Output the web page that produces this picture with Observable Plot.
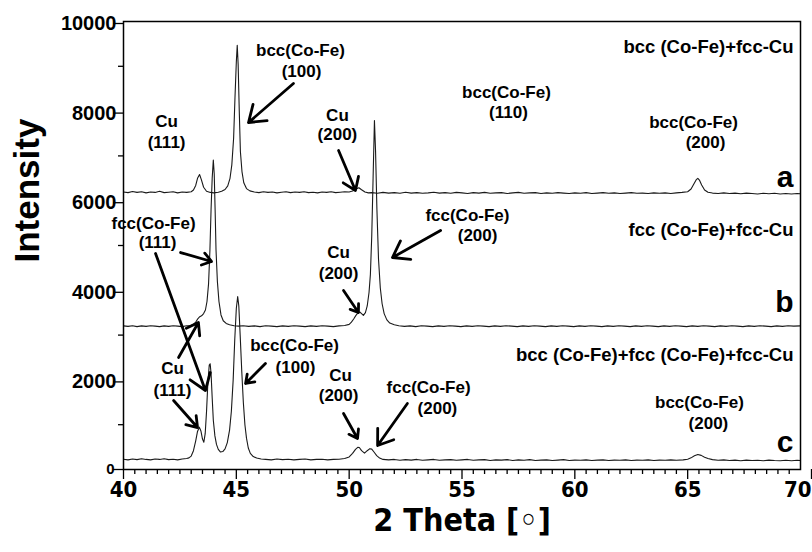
<!DOCTYPE html>
<html><head><meta charset="utf-8">
<script src="https://cdn.jsdelivr.net/npm/d3@7"></script>
<script src="https://cdn.jsdelivr.net/npm/@observablehq/plot@0.6"></script>
<style>
body{margin:0;background:#fff;}
#chart svg{display:block;}
</style></head><body><div id="chart"></div>
<script>
// 2θ (deg), intensity — curve a (bcc(Co-Fe)+fcc-Cu)
const seriesA = [
[40.0,6195],[40.2,6180],[40.4,6205],[40.6,6185],[40.8,6200],[41.0,6175],[41.2,6195],[41.4,6185],[41.6,6210],[41.8,6180],
[42.0,6190],[42.2,6200],[42.4,6175],[42.6,6195],[42.8,6185],[43.0,6200],[43.1,6240],[43.2,6340],[43.28,6500],[43.37,6585],
[43.45,6470],[43.55,6300],[43.68,6210],[43.85,6185],[44.0,6175],[44.2,6190],[44.35,6210],[44.5,6250],[44.62,6330],[44.72,6500],
[44.8,6800],[44.88,7400],[44.94,8300],[45.0,9100],[45.04,9470],[45.08,9050],[45.13,8000],[45.18,7100],[45.25,6650],[45.33,6400],
[45.45,6270],[45.6,6220],[45.8,6195],[46.0,6180],[46.2,6200],[46.4,6185],[46.6,6195],[46.8,6175],[47.0,6190],[47.2,6200],
[47.4,6180],[47.6,6195],[47.8,6185],[48.0,6200],[48.2,6180],[48.4,6190],[48.6,6175],[48.8,6195],[49.0,6185],[49.2,6200],
[49.4,6180],[49.6,6190],[49.8,6200],[50.0,6195],[50.15,6215],[50.3,6260],[50.43,6290],[50.55,6245],[50.7,6195],[50.85,6175],
[51.0,6180],[51.25,6165],[51.5,6185],[51.75,6170],[52.0,6180],[52.25,6165],[52.5,6190],[52.75,6170],[53.0,6180],[53.25,6165],
[53.5,6175],[53.75,6190],[54.0,6170],[54.25,6180],[54.5,6165],[54.75,6185],[55.0,6175],[55.25,6160],[55.5,6180],[55.75,6170],
[56.0,6185],[56.25,6165],[56.5,6175],[56.75,6180],[57.0,6160],[57.25,6175],[57.5,6185],[57.75,6165],[58.0,6175],[58.25,6180],
[58.5,6160],[58.75,6175],[59.0,6165],[59.25,6180],[59.5,6170],[59.75,6160],[60.0,6175],[60.25,6165],[60.5,6180],[60.75,6160],
[61.0,6170],[61.25,6180],[61.5,6165],[61.75,6175],[62.0,6160],[62.25,6170],[62.5,6180],[62.75,6165],[63.0,6170],[63.25,6160],
[63.5,6175],[63.75,6165],[64.0,6175],[64.25,6160],[64.5,6175],[64.75,6185],[65.0,6200],[65.15,6260],[65.28,6380],[65.38,6470],
[65.45,6500],[65.52,6460],[65.62,6350],[65.75,6240],[65.9,6190],[66.1,6170],[66.35,6160],[66.6,6175],[66.85,6160],[67.1,6170],
[67.35,6155],[67.6,6170],[67.85,6160],[68.1,6150],[68.35,6165],[68.6,6155],[68.85,6165],[69.1,6150],[69.35,6160],[69.6,6150],
[69.85,6160],[70.0,6155]
];
// curve b (fcc(Co-Fe)+fcc-Cu)
const seriesB = [
[40.0,3205],[40.2,3195],[40.4,3210],[40.6,3190],[40.8,3205],[41.0,3195],[41.2,3210],[41.4,3200],[41.6,3190],[41.8,3205],
[42.0,3195],[42.2,3210],[42.4,3200],[42.6,3190],[42.8,3210],[43.0,3215],[43.1,3240],[43.2,3290],[43.3,3370],[43.38,3410],
[43.46,3430],[43.55,3480],[43.63,3560],[43.7,3750],[43.77,4150],[43.83,4900],[43.88,5800],[43.93,6500],[43.98,6910],[44.02,6600],
[44.06,5800],[44.1,4900],[44.16,4200],[44.23,3750],[44.32,3450],[44.42,3320],[44.55,3260],[44.7,3230],[44.9,3210],[45.1,3200],
[45.3,3210],[45.55,3195],[45.8,3205],[46.05,3190],[46.3,3210],[46.55,3200],[46.8,3190],[47.05,3205],[47.3,3195],[47.55,3210],
[47.8,3200],[48.05,3190],[48.3,3205],[48.55,3195],[48.8,3210],[49.05,3200],[49.3,3190],[49.55,3205],[49.8,3215],[50.0,3240],
[50.1,3290],[50.2,3360],[50.3,3440],[50.4,3500],[50.47,3515],[50.55,3480],[50.63,3440],[50.72,3500],[50.8,3650],[50.88,3950],
[50.94,4350],[51.0,5200],[51.06,6500],[51.12,7790],[51.17,7100],[51.23,5800],[51.3,4700],[51.38,4050],[51.46,3700],[51.55,3480],
[51.67,3340],[51.8,3270],[52.0,3230],[52.2,3210],[52.45,3195],[52.7,3205],[52.95,3190],[53.2,3210],[53.45,3200],[53.7,3190],
[53.95,3205],[54.2,3195],[54.45,3210],[54.7,3200],[54.95,3190],[55.2,3205],[55.45,3195],[55.7,3210],[55.95,3200],[56.2,3190],
[56.45,3205],[56.7,3195],[56.95,3210],[57.2,3200],[57.45,3190],[57.7,3205],[57.95,3195],[58.2,3210],[58.45,3200],[58.7,3190],
[58.95,3205],[59.2,3195],[59.45,3210],[59.7,3200],[59.95,3190],[60.2,3205],[60.45,3195],[60.7,3210],[60.95,3200],[61.2,3190],
[61.45,3205],[61.7,3195],[61.95,3210],[62.2,3200],[62.45,3190],[62.7,3205],[62.95,3195],[63.2,3210],[63.45,3200],[63.7,3190],
[63.95,3205],[64.2,3195],[64.45,3210],[64.7,3200],[64.95,3190],[65.2,3205],[65.45,3195],[65.7,3210],[65.95,3200],[66.2,3190],
[66.45,3205],[66.7,3195],[66.95,3210],[67.2,3200],[67.45,3190],[67.7,3205],[67.95,3195],[68.2,3210],[68.45,3200],[68.7,3190],
[68.95,3205],[69.2,3195],[69.45,3210],[69.7,3200],[70.0,3205]
];
// curve c (bcc(Co-Fe)+fcc(Co-Fe)+fcc-Cu)
const seriesC = [
[40.0,230],[40.2,215],[40.4,235],[40.6,220],[40.8,240],[41.0,225],[41.2,215],[41.4,235],[41.6,225],[41.8,240],
[42.0,220],[42.2,230],[42.4,215],[42.6,235],[42.8,245],[42.9,260],[43.0,300],[43.1,420],[43.2,640],[43.28,850],
[43.36,945],[43.43,860],[43.5,680],[43.56,610],[43.62,800],[43.68,1300],[43.74,1950],[43.8,2330],[43.84,2360],[43.88,2150],
[43.93,1600],[43.98,1100],[44.05,750],[44.12,560],[44.2,450],[44.3,390],[44.4,400],[44.5,460],[44.6,600],[44.7,880],
[44.78,1300],[44.86,2000],[44.93,2900],[45.0,3600],[45.06,3860],[45.11,3650],[45.17,3000],[45.24,2200],[45.31,1500],[45.38,1000],
[45.45,700],[45.53,480],[45.62,360],[45.75,290],[45.9,255],[46.1,235],[46.3,225],[46.55,215],[46.8,235],[47.05,220],
[47.3,230],[47.55,215],[47.8,225],[48.05,235],[48.3,215],[48.55,225],[48.8,230],[49.05,215],[49.3,225],[49.55,230],
[49.8,245],[50.0,280],[50.15,360],[50.28,450],[50.38,495],[50.45,490],[50.55,420],[50.68,365],[50.8,420],[50.92,465],
[51.0,455],[51.1,390],[51.22,310],[51.35,255],[51.5,225],[51.75,215],[52.0,225],[52.25,205],[52.5,220],[52.75,210],
[53.0,225],[53.25,205],[53.5,215],[53.75,225],[54.0,205],[54.25,215],[54.5,220],[54.75,205],[55.0,215],[55.25,225],
[55.5,205],[55.75,215],[56.0,220],[56.25,200],[56.5,215],[56.75,210],[57.0,220],[57.25,200],[57.5,215],[57.75,205],
[58.0,220],[58.25,200],[58.5,210],[58.75,215],[59.0,200],[59.25,210],[59.5,220],[59.75,200],[60.0,210],[60.25,205],
[60.5,215],[60.75,200],[61.0,210],[61.25,215],[61.5,200],[61.75,210],[62.0,205],[62.25,215],[62.5,200],[62.75,210],
[63.0,205],[63.25,215],[63.5,200],[63.75,210],[64.0,205],[64.25,215],[64.5,205],[64.8,215],[65.0,230],[65.15,260],
[65.3,305],[65.45,335],[65.6,315],[65.75,275],[65.9,245],[66.1,220],[66.35,205],[66.6,215],[66.85,200],[67.1,210],
[67.35,195],[67.6,210],[67.85,200],[68.1,205],[68.35,195],[68.6,210],[68.85,200],[69.1,195],[69.35,205],[69.6,195],
[69.85,205],[70.0,200]
];

const xTickLabels = [40, 45, 50, 55, 60, 65];
const xLastTick = [70];
const yTickLabels = [2000, 4000, 6000, 8000, 10000];
const xMinorTicks = d3.range(40.5, 70, 0.5).filter(v => v % 5 !== 0);
const yMinorTicks = [1000, 3000, 5000, 7000, 9000];

// peak annotations: [text, 2θ, intensity]
const peakLabels = [
  ["Cu", 41.91, 7767], ["(111)", 41.91, 7299],
  ["bcc(Co-Fe)", 47.84, 9352], ["(100)", 47.89, 8883],
  ["Cu", 49.48, 7901], ["(200)", 49.48, 7477],
  ["bcc(Co-Fe)", 56.97, 8415], ["(110)", 57.06, 7968],
  ["bcc(Co-Fe)", 65.26, 7745], ["(200)", 65.79, 7299],
  ["fcc(Co-Fe)", 41.33, 5491], ["(111)", 41.51, 5067],
  ["Cu", 42.17, 2254], ["(111)", 42.17, 1763],
  ["fcc(Co-Fe)", 55.24, 5669], ["(200)", 55.69, 5223],
  ["Cu", 49.53, 4843], ["(200)", 49.53, 4375],
  ["bcc(Co-Fe)", 47.58, 2768], ["(100)", 47.62, 2277],
  ["Cu", 49.62, 2098], ["(200)", 49.53, 1652],
  ["fcc(Co-Fe)", 53.52, 1830], ["(200)", 53.91, 1362],
  ["bcc(Co-Fe)", 65.52, 1495], ["(200)", 65.92, 1027]
];
// phase labels per curve: [text, 2θ, intensity]
const phaseLabels = [
  ["bcc (Co-Fe)+fcc-Cu", 69.69, 9419],
  ["fcc (Co-Fe)+fcc-Cu", 69.69, 5334],
  ["bcc (Co-Fe)+fcc (Co-Fe)+fcc-Cu", 69.69, 2545]
];
const curveLetters = [["a", 69.69, 6517], ["b", 69.69, 3727], ["c", 69.69, 603]];
// arrows: [from 2θ, from I, to 2θ, to I]
const arrows = [
  [47.53, 8616, 45.54, 7745],
  [49.53, 7120, 50.28, 6227],
  [42.53, 4843, 43.90, 4643],
  [41.42, 4821, 43.63, 1763],
  [42.44, 2500, 43.32, 3281],
  [42.22, 1540, 43.28, 937],
  [54.05, 5334, 51.92, 4732],
  [49.75, 3995, 50.41, 3504],
  [46.29, 2366, 45.41, 1920],
  [49.75, 1250, 50.37, 692],
  [52.58, 1473, 51.26, 536]
];

const rows = [];
for (const [name, arr] of [["a", seriesA], ["b", seriesB], ["c", seriesC]])
  for (const [x, y] of arr) rows.push({series: name, x, y});

const toObj = (a) => a.map(([text, x, y]) => ({text, x, y}));
const narrow = "'DejaVu Sans Condensed', 'Liberation Sans Narrow', 'Arial Narrow', sans-serif";

const chart = Plot.plot({
  width: 812, height: 552,
  marginLeft: 123, marginRight: 12, marginTop: 21, marginBottom: 83,
  style: {fontFamily: "'Liberation Sans', Arial, sans-serif", background: "white", color: "black"},
  x: {domain: [40, 70]},
  y: {domain: [0, 10000]},
  marks: [
    Plot.lineY(rows, {x: "x", y: "y", z: "series", stroke: "#1a1a1a", strokeWidth: 1.1}),
    Plot.frame({stroke: "black", strokeWidth: 1.5}),
    Plot.axisY(yTickLabels, {tickSize: 10, tickPadding: -3, fontSize: 20, fontWeight: "bold", dy: 2, label: null, strokeWidth: 1.3, tickFormat: d => String(d)}),
    Plot.axisY([0], {tickSize: 10, tickPadding: -1, fontSize: 15, fontWeight: "bold", label: null, strokeWidth: 1.3, tickFormat: d => String(d)}),
    Plot.axisY(yMinorTicks, {tickSize: 5, tickFormat: () => " ", label: null, strokeWidth: 1.3}),
    Plot.axisX(xTickLabels, {tickSize: 10, tickPadding: 2, fontSize: 22, fontWeight: "bold", fontFamily: narrow, label: null, strokeWidth: 1.3}),
    Plot.axisX(xLastTick, {tickSize: 10, tickPadding: 2, fontSize: 22, fontWeight: "bold", fontFamily: narrow, label: null, strokeWidth: 1.3, textAnchor: "end", dx: 11}),
    Plot.axisX(xMinorTicks, {tickSize: 5, tickFormat: () => " ", label: null, strokeWidth: 1.3}),
    Plot.text(["Intensity"], {frameAnchor: "left", rotate: -90, dx: -96, dy: 17, fontSize: 35, fontWeight: "bold"}),
    Plot.text(["2 Theta [◦]"], {frameAnchor: "bottom", dy: 61, fontSize: 32, fontWeight: "bold", fontFamily: narrow}),
    Plot.arrow(arrows, {x1: d => d[0], y1: d => d[1], x2: d => d[2], y2: d => d[3], stroke: "black", strokeWidth: 2.8, headLength: 10, headAngle: 70}),
    Plot.text(toObj(peakLabels), {x: "x", y: "y", text: "text", fontSize: 17, fontWeight: "bold"}),
    Plot.text(toObj(phaseLabels), {x: "x", y: "y", text: "text", fontSize: 18.5, fontWeight: "bold", textAnchor: "end"}),
    Plot.text(toObj(curveLetters), {x: "x", y: "y", text: "text", fontSize: 30, fontWeight: "bold", textAnchor: "end"})
  ]
});
document.getElementById("chart").appendChild(chart);
</script></body></html>
